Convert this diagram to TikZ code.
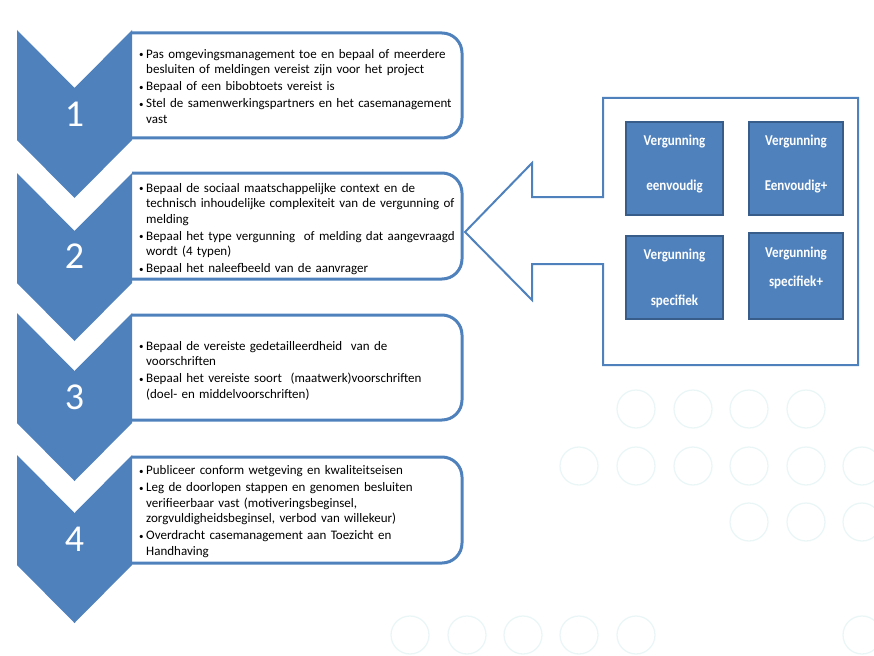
\documentclass[tikz,border=0pt]{standalone}
\usepackage{fontspec}
\setmainfont{Carlito}
\definecolor{blu}{HTML}{4F81BD}
\definecolor{dblu}{HTML}{385D8A}
\definecolor{cyc}{HTML}{EAF6F6}
\newcommand\bul[1]{\par\hangindent=8.5pt\hangafter=1\noindent\makebox[8.5pt][l]{\hspace{1.5pt}\raisebox{0.5pt}{\fontsize{9}{9}\selectfont •}}#1\par}
\newcommand\vt[1]{\scalebox{0.87}[1]{#1}}
\begin{document}
\begin{tikzpicture}[x=1pt,y=-1pt,
  chev/.style={fill=blu,draw=none},
  stepframe/.style={draw=blu,line width=3pt,rounded corners=20pt},
  num/.style={text=white,font=\fontsize{38}{38}\selectfont,inner sep=0},
  txt/.style={anchor=west,inner sep=0,text width=330pt,align=left,
    font=\fontsize{13}{15.5}\selectfont,
    execute at begin node={\setlength{\parskip}{1.5pt}}},
  vbox/.style={fill=blu,draw=dblu,line width=1.8pt},
  vtxt/.style={text=white,font=\bfseries\fontsize{15}{17}\selectfont,inner sep=0},
  bg/.style={draw=cyc,line width=1.3pt}]
\useasboundingbox (0,0) rectangle (874,655);
% background circles
\foreach \x in {636,693,749,806} \draw[bg] (\x,409) circle (19);
\foreach \x in {579,636,693,749,806,862} \draw[bg] (\x,466) circle (19);
\foreach \x in {749,806,862} \draw[bg] (\x,522) circle (19);
\foreach \x in {410,467,523,579,636,862} \draw[bg] (\x,635) circle (19);
% step frames
\foreach \t/\b in {33/138,173/279,315/420,457/563}
  \draw[stepframe] (132,\t) -- (462,\t) -- (462,\b) -- (132,\b);
% chevrons
\foreach \T in {30,173,313,455}
  \fill[chev] (17,\T) -- (74.5,\T+58) -- (132,\T) -- (132,\T+110) -- (74.5,\T+168) -- (17,\T+110) -- cycle;
\node[num] (n1) at (74.5,114) {1};
\node[num] (n2) at (74.5,256) {2};
\node[num] (n3) at (74.5,397) {3};
\node[num] (n4) at (74.5,539) {4};
% texts
\node[txt] (t1) at (137.5,82.5) {\bul{Pas omgevingsmanagement toe en bepaal of meerdere\newline besluiten of meldingen vereist zijn voor het project}\bul{Bepaal of een bibobtoets vereist is}\bul{Stel de samenwerkingspartners en het casemanagement\newline vast}};
\node[txt] (t2) at (137.5,225) {\bul{Bepaal de sociaal maatschappelijke context en de\newline technisch inhoudelijke complexiteit van de vergunning of\newline melding}\bul{Bepaal het type vergunning\ \ of melding dat aangevraagd\newline wordt (4 typen)}\bul{Bepaal het naleefbeeld van de aanvrager}};
\node[txt] (t3) at (137.5,366.5) {\bul{Bepaal de vereiste gedetailleerdheid\ \ van de\newline voorschriften}\bul{Bepaal het vereiste soort\ \ (maatwerk)voorschriften\newline (doel- en middelvoorschriften)}};
\node[txt] (t4) at (137.5,507.5) {\bul{Publiceer conform wetgeving en kwaliteitseisen}\bul{Leg de doorlopen stappen en genomen besluiten\newline verifieerbaar vast (motiveringsbeginsel,\newline zorgvuldigheidsbeginsel, verbod van willekeur)}\bul{Overdracht casemanagement aan Toezicht en\newline Handhaving}};
% callout
\draw[blu,line width=2pt,line join=miter] (603,98) -- (858,98) -- (858,365) -- (603,365) -- (603,264) -- (532,264) -- (532,300) -- (465,232) -- (532,163) -- (532,197) -- (603,197) -- cycle;
% vergunning boxes
\draw[vbox] (626,122) rectangle (723,215);
\draw[vbox] (749,122) rectangle (843,215);
\draw[vbox] (626,236) rectangle (723,319);
\draw[vbox] (749,233) rectangle (843,319);
\node[vtxt] (a1) at (674.5,142) {\vt{Vergunning}};
\node[vtxt] (a2) at (674.5,187) {\vt{eenvoudig}};
\node[vtxt] (b1) at (796,142) {\vt{Vergunning}};
\node[vtxt] (b2) at (796,187) {\vt{Eenvoudig+}};
\node[vtxt] (c1) at (674.5,256) {\vt{Vergunning}};
\node[vtxt] (c2) at (674.5,301) {\vt{specifiek}};
\node[vtxt] (d1) at (796,254) {\vt{Vergunning}};
\node[vtxt] (d2) at (796,282) {\vt{specifiek+}};
\end{tikzpicture}
\end{document}
